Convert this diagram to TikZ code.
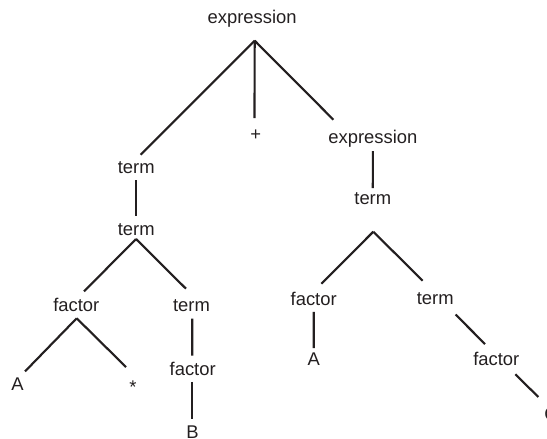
\documentclass[tikz,border=0pt]{standalone}
\usepackage{fontspec}
\setmainfont{Liberation Sans}
\usepackage{xcolor}
\definecolor{treeink}{HTML}{231F20}

\begin{document}
\begin{tikzpicture}[
  x=0.75pt,
  y=-0.75pt,
  every node/.style={font=\fontsize{13.8pt}{16pt}\selectfont, text=treeink,
    inner sep=0pt, text height=9.9pt, text depth=2.9pt, anchor=base},
  branch/.style={treeink, line width=1.6pt}
]
  \useasboundingbox (0,0) rectangle (547,439);

  % labels
  \node (exprTop) at (252.2,23) {expression};
  \node (plus) at (255.7,140.6) {+};
  \node (exprR) at (372.9,143.3) {expression};
  \node (termL) at (136.2,173) {term};
  \node (termR) at (372.8,204.5) {term};
  \node (termL2) at (136.2,235) {term};
  \node (factorL) at (76.3,311.7) {factor};
  \node (termM) at (191.5,311.7) {term};
  \node (aL) at (17.5,390) {A};
  \node (star) at (133,393) {*};
  \node (factorM) at (192.7,375) {factor};
  \node (b) at (192.5,438.3) {B};
  \node (factorR) at (313.7,305) {factor};
  \node (termRR) at (435.2,304) {term};
  \node (aR) at (313.8,365) {A};
  \node (factorRR) at (496.3,365.7) {factor};
  \node (c) at (551,420) {C};

  % forks
  \coordinate (forkTop) at (254.7,40.7);
  \coordinate (forkL2) at (136,239);
  \coordinate (forkFL) at (76.7,318.3);
  \coordinate (forkR) at (373.3,231.7);

  \draw[branch] (forkTop) -- ([shift={(4.5,-4.8)}]termL.north);
  \draw[branch] (forkTop) -- ([shift={(-1.2,-9.1)}]plus.north);
  \draw[branch] (forkTop) -- ([shift={(5.3,-10.1)}]exprR.north west);
  \draw[branch] ([shift={(0,3.1)}]termL.south) -- ([shift={(0,-5.1)}]termL2.north);
  \draw[branch] ([shift={(0,3.8)}]exprR.south) -- ([shift={(0,-3)}]termR.north);
  \draw[branch] (forkL2) -- ([shift={(7.7,-6.8)}]factorL.north);
  \draw[branch] (forkL2) -- ([shift={(-5.5,-9.5)}]termM.north);
  \draw[branch] (forkFL) -- ([shift={(7.5,-5.1)}]aL.north);
  \draw[branch] (forkFL) -- ([shift={(-7,-12.5)}]star.north);
  \draw[branch] ([shift={(0.8,2.7)}]termM.south) -- ([shift={(-0.4,-5.8)}]factorM.north);
  \draw[branch] ([shift={(-0.4,2.8)}]factorM.south) -- ([shift={(-0.2,-5.8)}]b.north);
  \draw[branch] (forkR) -- ([shift={(7.6,-7.8)}]factorR.north);
  \draw[branch] (forkR) -- ([shift={(-12.5,-9.8)}]termRR.north);
  \draw[branch] ([shift={(0,2.8)}]factorR.south) -- ([shift={(0,-3.5)}]aR.north);
  \draw[branch] ([shift={(1.7,6.4)}]termRR.south east) -- ([shift={(-11.3,-8.2)}]factorRR.north);
  \draw[branch] ([shift={(-4.3,4.4)}]factorRR.south east) -- ([shift={(-5.7,-9.5)}]c.north west);
\end{tikzpicture}
\end{document}
